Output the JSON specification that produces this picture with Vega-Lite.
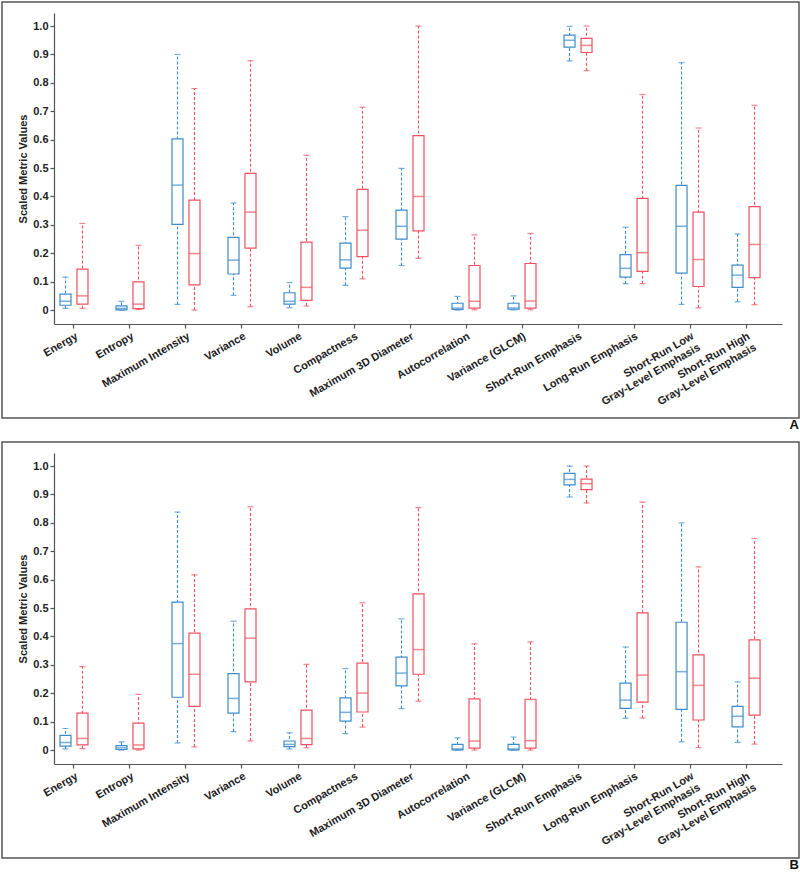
{
  "$schema": "https://vega.github.io/schema/vega-lite/v6.json",
  "padding": {"left": 1, "top": 1, "right": 0, "bottom": 0},
  "spacing": 8,
  "config": {
    "font": "Liberation Sans",
    "view": {"stroke": "#555", "strokeWidth": 1.5},
    "axis": {
      "labelFont": "Liberation Sans", "labelFontSize": 11, "labelFontWeight": "bold", "labelColor": "#222",
      "titleFont": "Liberation Sans", "titleFontSize": 11, "titleFontWeight": "bold", "titleColor": "#222",
      "domainColor": "#555", "tickColor": "#555", "domainWidth": 1.2, "tickWidth": 1.2, "tickSize": 4, "grid": false
    },
    "title": {"font": "Liberation Sans", "fontSize": 13, "fontWeight": "bold", "color": "#111", "orient": "bottom", "anchor": "end", "offset": 1}
  },
  "datasets": {
    "A": [
      {"metric": "Energy", "group": "G1", "min": 0.006, "q1": 0.017, "median": 0.031, "q3": 0.056, "max": 0.116},
      {"metric": "Energy", "group": "G2", "min": 0.006, "q1": 0.021, "median": 0.050, "q3": 0.144, "max": 0.305},
      {"metric": "Entropy", "group": "G1", "min": 0.0, "q1": 0.001, "median": 0.006, "q3": 0.015, "max": 0.031},
      {"metric": "Entropy", "group": "G2", "min": 0.002, "q1": 0.005, "median": 0.021, "q3": 0.099, "max": 0.228},
      {"metric": "Maximum Intensity", "group": "G1", "min": 0.020, "q1": 0.302, "median": 0.440, "q3": 0.603, "max": 0.900},
      {"metric": "Maximum Intensity", "group": "G2", "min": 0.0, "q1": 0.089, "median": 0.199, "q3": 0.387, "max": 0.780},
      {"metric": "Variance", "group": "G1", "min": 0.052, "q1": 0.127, "median": 0.176, "q3": 0.256, "max": 0.377},
      {"metric": "Variance", "group": "G2", "min": 0.012, "q1": 0.218, "median": 0.345, "q3": 0.481, "max": 0.878},
      {"metric": "Volume", "group": "G1", "min": 0.008, "q1": 0.021, "median": 0.031, "q3": 0.061, "max": 0.097},
      {"metric": "Volume", "group": "G2", "min": 0.014, "q1": 0.034, "median": 0.080, "q3": 0.239, "max": 0.545},
      {"metric": "Compactness", "group": "G1", "min": 0.087, "q1": 0.148, "median": 0.177, "q3": 0.236, "max": 0.329},
      {"metric": "Compactness", "group": "G2", "min": 0.110, "q1": 0.188, "median": 0.281, "q3": 0.425, "max": 0.714},
      {"metric": "Maximum 3D Diameter", "group": "G1", "min": 0.157, "q1": 0.250, "median": 0.295, "q3": 0.352, "max": 0.499},
      {"metric": "Maximum 3D Diameter", "group": "G2", "min": 0.182, "q1": 0.279, "median": 0.400, "q3": 0.614, "max": 1.0},
      {"metric": "Autocorrelation", "group": "G1", "min": 0.0, "q1": 0.002, "median": 0.007, "q3": 0.024, "max": 0.048},
      {"metric": "Autocorrelation", "group": "G2", "min": 0.001, "q1": 0.007, "median": 0.031, "q3": 0.157, "max": 0.265},
      {"metric": "Variance (GLCM)", "group": "G1", "min": 0.001, "q1": 0.003, "median": 0.007, "q3": 0.024, "max": 0.050},
      {"metric": "Variance (GLCM)", "group": "G2", "min": 0.001, "q1": 0.007, "median": 0.032, "q3": 0.164, "max": 0.270},
      {"metric": "Short-Run Emphasis", "group": "G1", "min": 0.877, "q1": 0.926, "median": 0.950, "q3": 0.968, "max": 0.999},
      {"metric": "Short-Run Emphasis", "group": "G2", "min": 0.843, "q1": 0.907, "median": 0.932, "q3": 0.957, "max": 1.0},
      {"metric": "Long-Run Emphasis", "group": "G1", "min": 0.093, "q1": 0.116, "median": 0.147, "q3": 0.195, "max": 0.292},
      {"metric": "Long-Run Emphasis", "group": "G2", "min": 0.093, "q1": 0.136, "median": 0.202, "q3": 0.393, "max": 0.759},
      {"metric": "Short-Run Low Gray-Level Emphasis", "group": "G1", "min": 0.020, "q1": 0.130, "median": 0.295, "q3": 0.439, "max": 0.871},
      {"metric": "Short-Run Low Gray-Level Emphasis", "group": "G2", "min": 0.008, "q1": 0.083, "median": 0.178, "q3": 0.345, "max": 0.641},
      {"metric": "Short-Run High Gray-Level Emphasis", "group": "G1", "min": 0.029, "q1": 0.080, "median": 0.123, "q3": 0.158, "max": 0.268},
      {"metric": "Short-Run High Gray-Level Emphasis", "group": "G2", "min": 0.019, "q1": 0.114, "median": 0.231, "q3": 0.364, "max": 0.721}
    ],
    "B": [
      {"metric": "Energy", "group": "G1", "min": 0.004, "q1": 0.014, "median": 0.027, "q3": 0.052, "max": 0.076},
      {"metric": "Energy", "group": "G2", "min": 0.005, "q1": 0.018, "median": 0.041, "q3": 0.130, "max": 0.294},
      {"metric": "Entropy", "group": "G1", "min": 0.0, "q1": 0.002, "median": 0.008, "q3": 0.016, "max": 0.029},
      {"metric": "Entropy", "group": "G2", "min": 0.0, "q1": 0.004, "median": 0.018, "q3": 0.095, "max": 0.196},
      {"metric": "Maximum Intensity", "group": "G1", "min": 0.025, "q1": 0.186, "median": 0.375, "q3": 0.521, "max": 0.838},
      {"metric": "Maximum Intensity", "group": "G2", "min": 0.011, "q1": 0.154, "median": 0.267, "q3": 0.412, "max": 0.617},
      {"metric": "Variance", "group": "G1", "min": 0.065, "q1": 0.130, "median": 0.182, "q3": 0.269, "max": 0.454},
      {"metric": "Variance", "group": "G2", "min": 0.032, "q1": 0.240, "median": 0.394, "q3": 0.497, "max": 0.857},
      {"metric": "Volume", "group": "G1", "min": 0.004, "q1": 0.012, "median": 0.020, "q3": 0.032, "max": 0.061},
      {"metric": "Volume", "group": "G2", "min": 0.008, "q1": 0.019, "median": 0.041, "q3": 0.141, "max": 0.302},
      {"metric": "Compactness", "group": "G1", "min": 0.058, "q1": 0.102, "median": 0.133, "q3": 0.184, "max": 0.287},
      {"metric": "Compactness", "group": "G2", "min": 0.081, "q1": 0.134, "median": 0.201, "q3": 0.306, "max": 0.519},
      {"metric": "Maximum 3D Diameter", "group": "G1", "min": 0.146, "q1": 0.226, "median": 0.271, "q3": 0.327, "max": 0.462},
      {"metric": "Maximum 3D Diameter", "group": "G2", "min": 0.172, "q1": 0.267, "median": 0.354, "q3": 0.550, "max": 0.854},
      {"metric": "Autocorrelation", "group": "G1", "min": 0.0, "q1": 0.001, "median": 0.004, "q3": 0.020, "max": 0.043},
      {"metric": "Autocorrelation", "group": "G2", "min": 0.0, "q1": 0.007, "median": 0.032, "q3": 0.180, "max": 0.374},
      {"metric": "Variance (GLCM)", "group": "G1", "min": 0.0, "q1": 0.001, "median": 0.004, "q3": 0.020, "max": 0.046},
      {"metric": "Variance (GLCM)", "group": "G2", "min": 0.0, "q1": 0.007, "median": 0.033, "q3": 0.179, "max": 0.381},
      {"metric": "Short-Run Emphasis", "group": "G1", "min": 0.891, "q1": 0.934, "median": 0.953, "q3": 0.974, "max": 1.0},
      {"metric": "Short-Run Emphasis", "group": "G2", "min": 0.870, "q1": 0.917, "median": 0.938, "q3": 0.954, "max": 1.0},
      {"metric": "Long-Run Emphasis", "group": "G1", "min": 0.112, "q1": 0.147, "median": 0.176, "q3": 0.236, "max": 0.363},
      {"metric": "Long-Run Emphasis", "group": "G2", "min": 0.113, "q1": 0.169, "median": 0.264, "q3": 0.483, "max": 0.873},
      {"metric": "Short-Run Low Gray-Level Emphasis", "group": "G1", "min": 0.029, "q1": 0.143, "median": 0.276, "q3": 0.450, "max": 0.800},
      {"metric": "Short-Run Low Gray-Level Emphasis", "group": "G2", "min": 0.009, "q1": 0.106, "median": 0.228, "q3": 0.335, "max": 0.645},
      {"metric": "Short-Run High Gray-Level Emphasis", "group": "G1", "min": 0.027, "q1": 0.082, "median": 0.119, "q3": 0.154, "max": 0.240},
      {"metric": "Short-Run High Gray-Level Emphasis", "group": "G2", "min": 0.021, "q1": 0.123, "median": 0.253, "q3": 0.388, "max": 0.745}
    ]
  },
  "vconcat": [
    {
      "width": 797, "height": 416,
      "data": {"name": "A"},
      "title": {"text": "A"},
      "encoding": {
        "x": {"field": "metric", "type": "nominal", "sort": null,
          "scale": {"range": [52, 780], "paddingInner": 0.393, "paddingOuter": 0.196, "align": 0.136},
          "axis": {"title": null, "offset": -94, "labelAngle": -30, "labelAlign": "right", "labelBaseline": "top", "labelPadding": 2, "labelOverlap": false, "labelLineHeight": 13,
            "labelExpr": "indexof(datum.label, ' Gray-Level') > 0 ? [substring(datum.label, 0, indexof(datum.label, ' Gray-Level')), 'Gray-Level Emphasis'] : datum.label"}},
        "xOffset": {"field": "group", "type": "nominal", "scale": {"paddingInner": 0, "paddingOuter": 0}}
      },
      "layer": [
        {"mark": {"type": "rule", "strokeDash": [3, 2], "strokeWidth": 1.1},
         "encoding": {
           "y": {"field": "min", "type": "quantitative",
             "scale": {"domain": [-0.049, 1.046], "range": [322, 11], "nice": false, "zero": false},
             "axis": {"title": "Scaled Metric Values", "offset": -52, "values": [0, 0.1, 0.2, 0.3, 0.4, 0.5, 0.6, 0.7, 0.8, 0.9, 1.0], "labelPadding": 2, "titlePadding": 4,
               "labelExpr": "datum.value == 0 ? '0' : format(datum.value, '.1f')"}},
           "y2": {"field": "max"},
           "color": {"field": "group", "type": "nominal", "scale": {"domain": ["G1", "G2"], "range": ["#3d8bca", "#ef5260"]}, "legend": null}}},
        {"mark": {"type": "tick", "size": 6, "thickness": 1.2},
         "encoding": {"y": {"field": "min", "type": "quantitative"}, "color": {"field": "group", "type": "nominal", "legend": null}}},
        {"mark": {"type": "tick", "size": 6, "thickness": 1.2},
         "encoding": {"y": {"field": "max", "type": "quantitative"}, "color": {"field": "group", "type": "nominal", "legend": null}}},
        {"mark": {"type": "bar", "fill": "white", "strokeWidth": 1.2, "size": 11},
         "encoding": {"y": {"field": "q1", "type": "quantitative"}, "y2": {"field": "q3"},
           "stroke": {"field": "group", "type": "nominal", "scale": {"domain": ["G1", "G2"], "range": ["#3d8bca", "#ef5260"]}, "legend": null}}},
        {"mark": {"type": "tick", "size": 11, "thickness": 1.5},
         "encoding": {"y": {"field": "median", "type": "quantitative"}, "color": {"field": "group", "type": "nominal", "legend": null}}}
      ]
    },
    {
      "width": 797, "height": 416,
      "data": {"name": "B"},
      "title": {"text": "B"},
      "encoding": {
        "x": {"field": "metric", "type": "nominal", "sort": null,
          "scale": {"range": [52, 780], "paddingInner": 0.393, "paddingOuter": 0.196, "align": 0.136},
          "axis": {"title": null, "offset": -94, "labelAngle": -30, "labelAlign": "right", "labelBaseline": "top", "labelPadding": 2, "labelOverlap": false, "labelLineHeight": 13,
            "labelExpr": "indexof(datum.label, ' Gray-Level') > 0 ? [substring(datum.label, 0, indexof(datum.label, ' Gray-Level')), 'Gray-Level Emphasis'] : datum.label"}},
        "xOffset": {"field": "group", "type": "nominal", "scale": {"paddingInner": 0, "paddingOuter": 0}}
      },
      "layer": [
        {"mark": {"type": "rule", "strokeDash": [3, 2], "strokeWidth": 1.1},
         "encoding": {
           "y": {"field": "min", "type": "quantitative",
             "scale": {"domain": [-0.049, 1.046], "range": [322, 11], "nice": false, "zero": false},
             "axis": {"title": "Scaled Metric Values", "offset": -52, "values": [0, 0.1, 0.2, 0.3, 0.4, 0.5, 0.6, 0.7, 0.8, 0.9, 1.0], "labelPadding": 2, "titlePadding": 4,
               "labelExpr": "datum.value == 0 ? '0' : format(datum.value, '.1f')"}},
           "y2": {"field": "max"},
           "color": {"field": "group", "type": "nominal", "scale": {"domain": ["G1", "G2"], "range": ["#3d8bca", "#ef5260"]}, "legend": null}}},
        {"mark": {"type": "tick", "size": 6, "thickness": 1.2},
         "encoding": {"y": {"field": "min", "type": "quantitative"}, "color": {"field": "group", "type": "nominal", "legend": null}}},
        {"mark": {"type": "tick", "size": 6, "thickness": 1.2},
         "encoding": {"y": {"field": "max", "type": "quantitative"}, "color": {"field": "group", "type": "nominal", "legend": null}}},
        {"mark": {"type": "bar", "fill": "white", "strokeWidth": 1.2, "size": 11},
         "encoding": {"y": {"field": "q1", "type": "quantitative"}, "y2": {"field": "q3"},
           "stroke": {"field": "group", "type": "nominal", "scale": {"domain": ["G1", "G2"], "range": ["#3d8bca", "#ef5260"]}, "legend": null}}},
        {"mark": {"type": "tick", "size": 11, "thickness": 1.5},
         "encoding": {"y": {"field": "median", "type": "quantitative"}, "color": {"field": "group", "type": "nominal", "legend": null}}}
      ]
    }
  ]
}
